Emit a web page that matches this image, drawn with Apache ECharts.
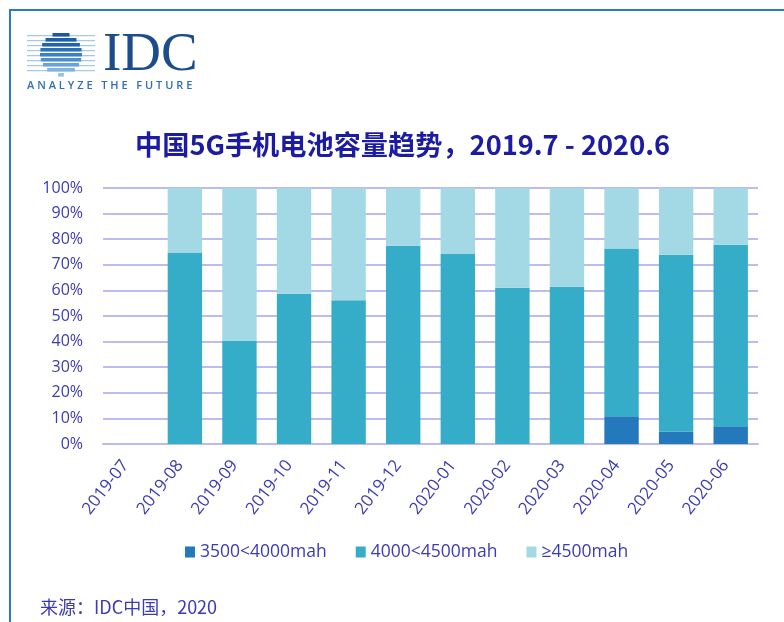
<!DOCTYPE html>
<html>
<head>
<meta charset="utf-8">
<script src="https://cdn.jsdelivr.net/npm/echarts@6/dist/echarts.min.js"></script>
<style>
  html, body { margin: 0; padding: 0; background: #fff; }
  #wrap { position: relative; width: 784px; height: 622px; overflow: hidden; }
  #chart { position: absolute; left: 0; top: 0; width: 784px; height: 622px; }
  .bt { position: absolute; left: 9px; top: 9px; width: 800px; height: 2px; background: #2a7cc2; }
  .bl { position: absolute; left: 9px; top: 9px; width: 2px; height: 640px; background: #2a7cc2; }
  #tag { position: absolute; left: 27px; top: 78px; font-family: "Open Sans", "Noto Sans", sans-serif; font-size: 11px; font-weight: 600; letter-spacing: 2.9px; color: #2f70b5; white-space: nowrap; line-height: 13px; }
</style>
</head>
<body>
<div id="wrap">
  <div id="chart"></div>
  <div class="bt"></div>
  <div class="bl"></div>
  <div id="tag">ANALYZE THE FUTURE</div>
</div>
<script>
// ---- data ----
var categories = ['2019-07','2019-08','2019-09','2019-10','2019-11','2019-12','2020-01','2020-02','2020-03','2020-04','2020-05','2020-06'];
var seriesNames = ['3500<4000mah', '4000<4500mah', '≥4500mah'];
var cap3500 = [null, 0, 0, 0, 0, 0, 0, 0, 0, 10.8, 4.9, 6.9];
var cap4000 = [null, 74.8, 40.2, 58.7, 56.2, 77.4, 74.2, 61.0, 61.4, 65.6, 69.0, 70.9];
var cap4500 = [null, 25.2, 59.8, 41.3, 43.8, 22.6, 25.8, 39.0, 38.6, 23.6, 26.1, 22.2];
var yTicks = { min: 0, max: 100, interval: 10 };
var titleText = '中国5G手机电池容量趋势，2019.7 - 2020.6';
var sourceText = '来源：IDC中国，2020';

var colors = ['#2479bd', '#36adc8', '#a2d9e5'];
var labelColor = '#3b3bb6';

// ---- logo graphics (decoration) ----
var logo = [];
var cx = 61, cy = 54, r = 21;
for (var ly = 35; ly <= 72; ly += 5) {
  logo.push({ type: 'rect', shape: { x: 27, y: ly, width: 68, height: 1.2 }, style: { fill: '#a9c7e7' }, silent: true });
}
var bandTop = cy - r, bandH = 3.6, gap = 1.4, i = 0;
var bandColors = ['#1b58a0', '#1d5ea8', '#2064ae', '#2a70b8', '#3a80c4', '#4d8fcd', '#67a2d8', '#80b3e0', '#95c1e6'];
for (var by = bandTop; by < cy + r; by += bandH + gap, i++) {
  var mid = by + bandH / 2 - cy;
  var hw = Math.sqrt(Math.max(0, r * r - mid * mid));
  logo.push({ type: 'rect', shape: { x: cx - hw, y: by, width: hw * 2, height: bandH }, style: { fill: bandColors[Math.min(i, bandColors.length - 1)] }, silent: true });
}
logo.push({
  type: 'text', x: 103, y: 56,
  style: { text: 'IDC', font: '55px "Liberation Serif", "DejaVu Serif", serif', fill: '#1d4c8c', verticalAlign: 'middle', align: 'left' },
  silent: true
});
logo.push({
  type: 'text', x: 40, y: 607,
  style: { text: sourceText, font: '18px "Noto Sans CJK SC", sans-serif', fill: labelColor, verticalAlign: 'middle', align: 'left' },
  silent: true
});

var chart = echarts.init(document.getElementById('chart'), null, { renderer: 'canvas' });
var option = {
  animation: false,
  color: colors,
  title: {
    text: titleText,
    left: 130,
    top: 126,
    textStyle: { fontFamily: '"Noto Sans CJK SC", sans-serif', fontSize: 27.2, fontWeight: 'bold', color: '#1c1ca2' }
  },
  legend: {
    data: seriesNames,
    left: 180,
    top: 538,
    itemWidth: 10,
    itemHeight: 11,
    itemGap: 29,
    icon: 'rect',
    textStyle: { fontFamily: '"Open Sans", "Noto Sans", sans-serif', fontSize: 17.5, color: labelColor }
  },
  grid: { left: 103, right: 26, top: 188, bottom: 178, containLabel: false },
  xAxis: {
    type: 'category',
    data: categories,
    axisLine: { show: true, lineStyle: { color: '#bcbcf4', width: 2 } },
    axisTick: { show: false },
    axisLabel: { rotate: 52, margin: 12, interval: 0, padding: [0, 8, 0, 0], fontFamily: '"Open Sans", "Noto Sans", sans-serif', fontSize: 17, color: labelColor }
  },
  yAxis: {
    type: 'value',
    min: yTicks.min, max: yTicks.max, interval: yTicks.interval,
    axisLine: { show: false },
    axisTick: { show: false },
    splitLine: { lineStyle: { color: '#bcbcf4', width: 2 } },
    axisLabel: { formatter: '{value}%', margin: 20, fontFamily: '"Open Sans", "Noto Sans", sans-serif', fontSize: 16, color: labelColor }
  },
  series: [
    { name: seriesNames[0], type: 'bar', stack: 'total', barWidth: '63%', data: cap3500, itemStyle: { color: colors[0] } },
    { name: seriesNames[1], type: 'bar', stack: 'total', barWidth: '63%', data: cap4000, itemStyle: { color: colors[1] } },
    { name: seriesNames[2], type: 'bar', stack: 'total', barWidth: '63%', data: cap4500, itemStyle: { color: colors[2] } }
  ],
  graphic: logo
};
chart.setOption(option);
</script>
</body>
</html>
